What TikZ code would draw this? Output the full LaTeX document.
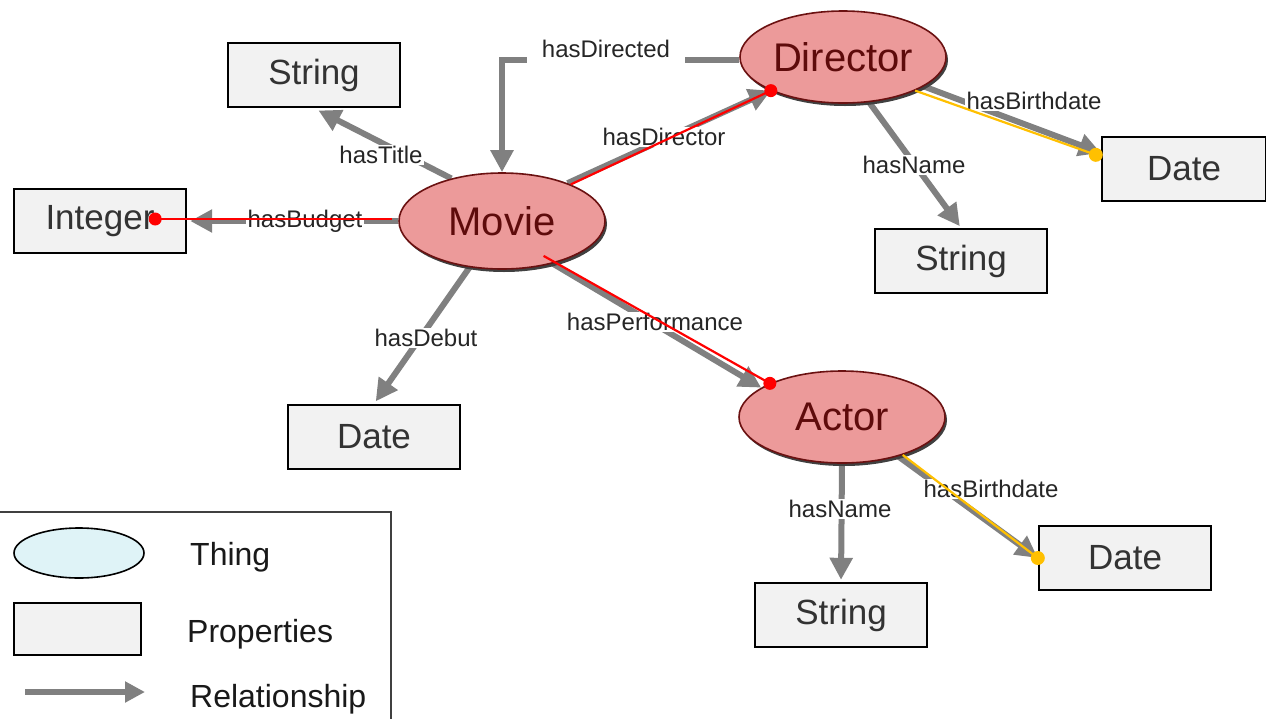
\documentclass[tikz,border=0pt]{standalone}
\usepackage{fontspec}
\setmainfont{Liberation Sans}
\usetikzlibrary{arrows.meta,shapes.geometric,calc}
\definecolor{thingfill}{HTML}{EC9A9A}
\definecolor{thingdraw}{HTML}{6B1111}
\definecolor{thingtext}{HTML}{5E0B0B}
\definecolor{propfill}{HTML}{F2F2F2}
\definecolor{relgray}{HTML}{808080}
\definecolor{linkred}{HTML}{FF0000}
\definecolor{linkorange}{HTML}{FFC000}
\definecolor{legfill}{HTML}{DFF3F7}
\pgfdeclarelayer{bg}
\pgfsetlayers{bg,main}
\tikzset{
 thing/.style={ellipse, draw=thingdraw, line width=1.6pt, fill=thingfill, text=thingtext, minimum width=206pt, minimum height=92pt, inner sep=0pt, font=\fontsize{40}{48}\selectfont},
 thingshadow/.style={ellipse, fill=black!75, minimum width=206pt, minimum height=92pt, inner sep=0pt},
 prop/.style={rectangle, draw=black, line width=2.4pt, fill=propfill, text=black!80, minimum width=172pt, minimum height=64pt, inner sep=0pt, font=\fontsize{35}{42}\selectfont},
 rel/.style={draw=relgray, line width=6pt, -{Triangle[length=22pt,width=22pt]}},
 lbl/.style={fill=white, inner sep=1.5pt, text=black!85, font=\fontsize{24}{28}\selectfont},
 redlink/.style={draw=linkred, line width=2.2pt},
 orangelink/.style={draw=linkorange, line width=2.2pt},
 reddot/.style={circle, fill=linkred, minimum size=13pt, inner sep=0pt},
 orangedot/.style={circle, fill=linkorange, minimum size=14pt, inner sep=0pt},
 legtext/.style={font=\fontsize{32}{38}\selectfont, text=black!90, inner sep=0pt, anchor=base west},
}
\begin{document}
\begin{tikzpicture}[x=1pt,y=-1pt]
\useasboundingbox (0,0) rectangle (1266,718);
\clip (0,0) rectangle (1266,718);

% shadows
\node[thingshadow, minimum height=96pt] (movieshadow) at (504,224) {};
\node[thingshadow] (directorshadow) at (845,60) {};
\node[thingshadow] (actorshadow) at (844,420) {};

% things
\node[thing, minimum height=96pt] (movie) at (502,221) {Movie};
\node[thing] (director) at (843,57) {Director};
\node[thing] (actor) at (842,417) {Actor};

% properties
\node[prop] (strtitle) at (314,75) {String};
\node[prop] (integer) at (100,221) {Integer};
\node[prop] (debutdate) at (374,437) {Date};
\node[prop, minimum width=164pt] (dirdate) at (1184,169) {Date};
\node[prop] (dirname) at (961,261) {String};
\node[prop] (actdate) at (1125,558) {Date};
\node[prop] (actname) at (841,615) {String};

% relationships
\begin{pgfonlayer}{bg}
\fill[white] (0,0) rectangle (1266,718);
\draw[rel, shorten >=5pt] (movie.140) -- (strtitle.south);
\draw[rel, shorten >=3pt] (movie.west) -- (integer.east);
\draw[rel] ($(director.west)+(0,3)$) -| (movie.north);
\draw[rel] (movie.30) -- (director.205);
\draw[rel, shorten >=3pt] (movie.235) -- (debutdate.north);
\draw[rel] (movie.320) -- (actor.160);
\draw[rel, shorten >=2pt] (director.300) -- (dirname.north);
\draw[rel] (director.340) -- (dirdate.169);
\draw[rel, shorten >=2pt] (actor.south) -- (actname.north);
\draw[rel] (actor.325) -- (actdate.west);

\node[lbl] (ltitle) at (381,155) {hasTitle};
\node[lbl] (lbudget) at (305,221) {hasBudget};
\node[lbl, inner xsep=15pt, inner ysep=6pt] (ldirected) at (606,49) {hasDirected};
\node[lbl] (ldirector) at (664,137) {hasDirector};
\node[lbl] (ldebut) at (426,338) {hasDebut};
\node[lbl] (lperf) at (655,322) {hasPerformance};
\node[lbl] (ldname) at (914,165) {hasName};
\node[lbl] (ldbirth) at (1034,101) {hasBirthdate};
\node[lbl] (laname) at (840,509) {hasName};
\node[lbl] (labirth) at (991,489) {hasBirthdate};
\end{pgfonlayer}

% red and orange links
\coordinate (budgetpt) at ($(integer.east)+(-32,-2)$);
\coordinate (movieinner) at ($(movie.center)!0.82!(movie.320)$);
\coordinate (dirdatept) at ($(dirdate.169)+(-5,2)$);
\draw[redlink] ($(movie.west)+(-6,-2)$) -- (budgetpt);
\draw[redlink] (movie.28) -- (director.205);
\draw[redlink] (movieinner) -- (actor.155);
\draw[orangelink] (director.335) -- (dirdatept);
\draw[orangelink] (actor.328) -- (actdate.west);
\node[reddot] (budgetdot) at (budgetpt) {};
\node[reddot] (dirdot) at (director.205) {};
\node[reddot] (actdot) at (actor.155) {};
\node[orangedot] (ddatedot) at (dirdatept) {};
\node[orangedot] (adatedot) at (actdate.west) {};

% legend
\draw[draw=black!75, line width=2pt] (-5,512) rectangle (391,730);
\node[ellipse, draw=black, line width=1.6pt, fill=legfill, minimum width=130pt, minimum height=50pt, inner sep=0pt] (legthing) at (79,553) {};
\node[rectangle, draw=black, line width=2pt, fill=propfill, minimum width=127pt, minimum height=52pt, inner sep=0pt] (legprop) at (77.5,629) {};
\coordinate (legA) at (25,692);
\coordinate (legB) at (145,692);
\draw[draw=relgray, line width=6pt, -{Triangle[length=20pt,width=20pt]}] (legA) -- (legB);
\node[legtext] (legt1) at (190,565) {Thing};
\node[legtext] (legt2) at (187,642) {Properties};
\node[legtext] (legt3) at (190,707) {Relationship};
\end{tikzpicture}
\end{document}
